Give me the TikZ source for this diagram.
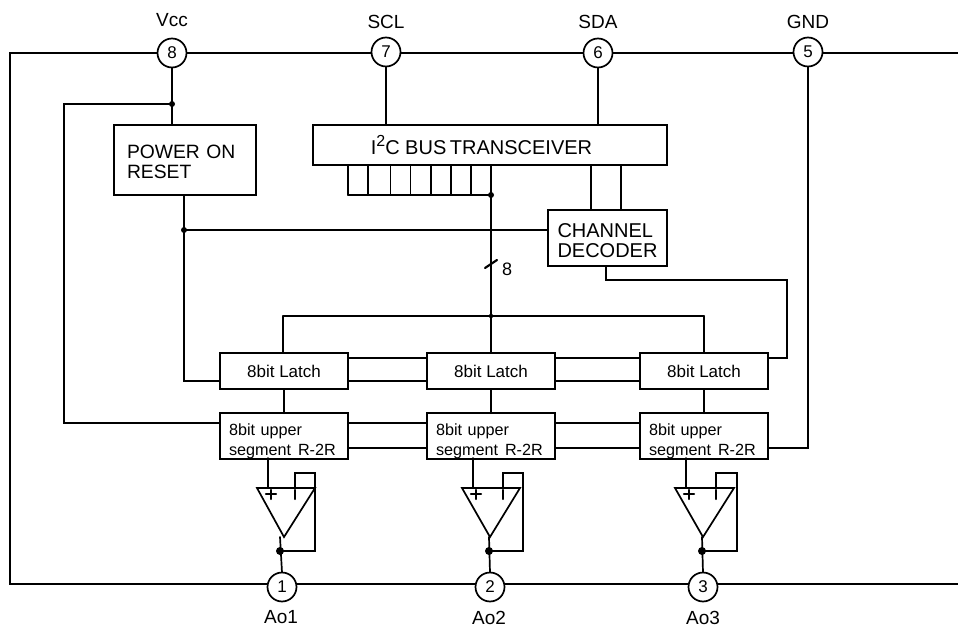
\documentclass[tikz,border=0pt]{standalone}
\usepackage{fontspec}
\setmainfont{Liberation Sans}
\usetikzlibrary{calc}
\tikzset{
  x=1pt,y=-1pt,
  wire/.style={line width=1.7pt,line cap=round,line join=miter},
  pin/.style={circle,draw,line width=1.7pt,fill=white,minimum size=29pt,inner sep=0pt,outer sep=0pt,font=\fontsize{17}{17}\selectfont},
  box/.style={rectangle,draw,line width=1.9pt,fill=white,inner sep=0pt,outer sep=0pt},
  latchbox/.style={box,minimum width=128pt,minimum height=36pt,font=\fontsize{17}{17}\selectfont},
  dacbox/.style={box,minimum width=128pt,minimum height=44pt,text width=118pt,align=left,font=\fontsize{16.2}{20}\selectfont},
  bigtext/.style={font=\fontsize{20}{20}\selectfont},
  lab/.style={inner sep=0pt,font=\fontsize{19}{19}\selectfont},
  jdot/.style={circle,fill=black,inner sep=0pt,minimum size=#1},
  jdot/.default=6pt
}
\newcommand{\dactext}{\rule{4pt}{0pt}\rule{0pt}{22pt}8bit upper\\\rule{4pt}{0pt}segment\hspace{1.5pt} R-2R}
\begin{document}
\begin{tikzpicture}
\useasboundingbox[fill=white] (0,0) rectangle (958,628);
% named coordinates
\coordinate (frameTL) at (10,53);
\coordinate (frameBL) at (10,584);
\coordinate (frameTR) at (958,53);
\coordinate (frameBR) at (958,584);
\coordinate (vccJ) at (172,104);
\coordinate (vccL) at (64,104);
\coordinate (resetJ) at (184,230);
\coordinate (busJ) at (491,195);
\coordinate (tapJ) at (491,316);
\coordinate (tapL) at (283,316);
\coordinate (tapR) at (704,316);
\coordinate (decT) at (606,280);
\coordinate (decR) at (787,280);
\coordinate (slashA) at (485,268);
\coordinate (slashB) at (497,260);
% frame
\draw[wire] (frameTR) -- (frameTL) -- (frameBL) -- (frameBR);
% boxes
\node[box,minimum width=142pt,minimum height=70pt,font=\fontsize{19.3}{20}\selectfont,text width=116pt,align=left] (por) at (185,160) {\rule{0pt}{17pt}POWER ON\\RESET};
\node[box,minimum width=354pt,minimum height=40pt,bigtext] (tr) at (490,145) {I\raisebox{0.42em}{\fontsize{16}{16}\selectfont 2}C BUS\hspace{-2pt} TRANSCEIVER\rule{17pt}{0pt}};
\node[box,minimum width=119pt,minimum height=56pt,bigtext,text width=100pt,align=left] (dec) at (607.5,238) {\rule{0pt}{18.5pt}CHANNEL\\DECODER};
\node[latchbox] (l1) at (284,371) {8bit Latch};
\node[latchbox] (l2) at (491,371) {8bit Latch};
\node[latchbox] (l3) at (704,371) {8bit Latch};
\node[dacbox] (r1) at (284,436) {\dactext};
\node[dacbox] (r2) at (491,436) {\dactext};
\node[dacbox] (r3) at (704,436) {\dactext};
% pins
\node[pin] (p8) at (172,53) {8};
\node[pin] (p7) at (386,52) {7};
\node[pin] (p6) at (598,53) {6};
\node[pin] (p5) at (808,52) {5};
\node[pin] (p1) at (282,587) {1};
\node[pin] (p2) at (490,587) {2};
\node[pin] (p3) at (703,587) {3};
% pin labels
\node[lab] (tVcc) at (172,20) {Vcc};
\node[lab] (tSCL) at (386,22) {SCL};
\node[lab] (tSDA) at (598,22) {SDA};
\node[lab] (tGND) at (808,22) {GND};
\node[lab] (tA1) at (281,617.5) {Ao1};
\node[lab] (tA2) at (489,617.5) {Ao2};
\node[lab] (tA3) at (703,617.5) {Ao3};
\node[lab,font=\fontsize{18}{18}\selectfont] (t8) at (507,269) {8};
% top connectors
\draw[wire] (p8) -- (por.north -| p8);
\draw[wire] (vccJ) -- (vccL) -- (vccL |- 0,423) -- (r1.west |- 0,423);
\draw[wire] (p7.south) -- (tr.north -| p7);
\draw[wire] (p6.south) -- (tr.north -| p6);
\draw[wire] (por.south -| resetJ) -- (resetJ |- 0,381) -- (l1.west |- 0,381);
\draw[wire] (resetJ) -- (dec.west |- resetJ);
% bus stubs
\foreach \bx in {348,368,390.5,410.5,431,451,471} {
  \draw[wire] (\bx,165) -- (\bx,195);
}
\draw[wire] (348,195) -- (busJ);
\draw[wire] (tr.south -| busJ) -- (busJ) -- (tapJ);
\draw[wire,line width=2.2pt] (slashA) -- (slashB);
\draw[wire] (tr.south -| 591,0) -- (dec.north -| 591,0);
\draw[wire] (tr.south -| 621,0) -- (dec.north -| 621,0);
\draw[wire] (dec.south -| decT) -- (decT) -- (decR) -- (decR |- 0,358) -- (l3.east |- 0,358);
% tap bus
\draw[wire] (tapL) -- (tapR);
\draw[wire] (tapL) -- (l1.north -| tapL);
\draw[wire] (tapJ) -- (l2.north);
\draw[wire] (tapR) -- (l3.north -| tapR);
% between rows
\draw[wire] (l1.south) -- (r1.north);
\draw[wire] (l2.south) -- (r2.north);
\draw[wire] (l3.south) -- (r3.north);
% between columns
\foreach \a/\b in {l1/l2,l2/l3} {
  \draw[wire] (\a.east |- 0,358) -- (\b.west |- 0,358);
  \draw[wire] (\a.east |- 0,381) -- (\b.west |- 0,381);
}
\foreach \a/\b in {r1/r2,r2/r3} {
  \draw[wire] (\a.east |- 0,423) -- (\b.west |- 0,423);
  \draw[wire] (\a.east |- 0,448) -- (\b.west |- 0,448);
}
% GND
\draw[wire] (p5.south) -- (p5.south |- 0,448) -- (r3.east |- 0,448);
% op-amps: left, right, apex, plus, minus, feedback right, output, box, pin
\foreach \tl/\tr/\ap/\pl/\mi/\fb/\ou/\pn in {
  257/315/284/268/295/315/280/p1,
  462/520/490/473/503/523/489/p2,
  675/734/703/686/716/737/702/p3} {
  \coordinate (amp\pn) at (\ou,551);
  \draw[wire,line join=miter] (\tl,488) -- (\tr,488) -- (\ap,537) -- cycle;
  \draw[wire] (\pl,458) -- (\pl,488);
  \draw[wire,line width=2.2pt] (\pl+3,490) -- (\pl+3,499);
  \draw[wire,line width=2.2pt] (\pl-2,494) -- (\pl+8,494);
  \draw[wire,line width=2.2pt] (\mi,490) -- (\mi,499);
  \draw[wire] (\mi,488) -- (\mi,473) -- (\fb,473) -- (\fb,551) -- (amp\pn);
  \draw[wire] (\ou,537) -- (\pn.north);
  \node[jdot=8pt] at (amp\pn) {};
}
% junction dots
\node[jdot] at (vccJ) {};
\node[jdot] at (resetJ) {};
\node[jdot] at (busJ) {};
\node[jdot=4.5pt] at (tapJ) {};
\end{tikzpicture}
\end{document}
